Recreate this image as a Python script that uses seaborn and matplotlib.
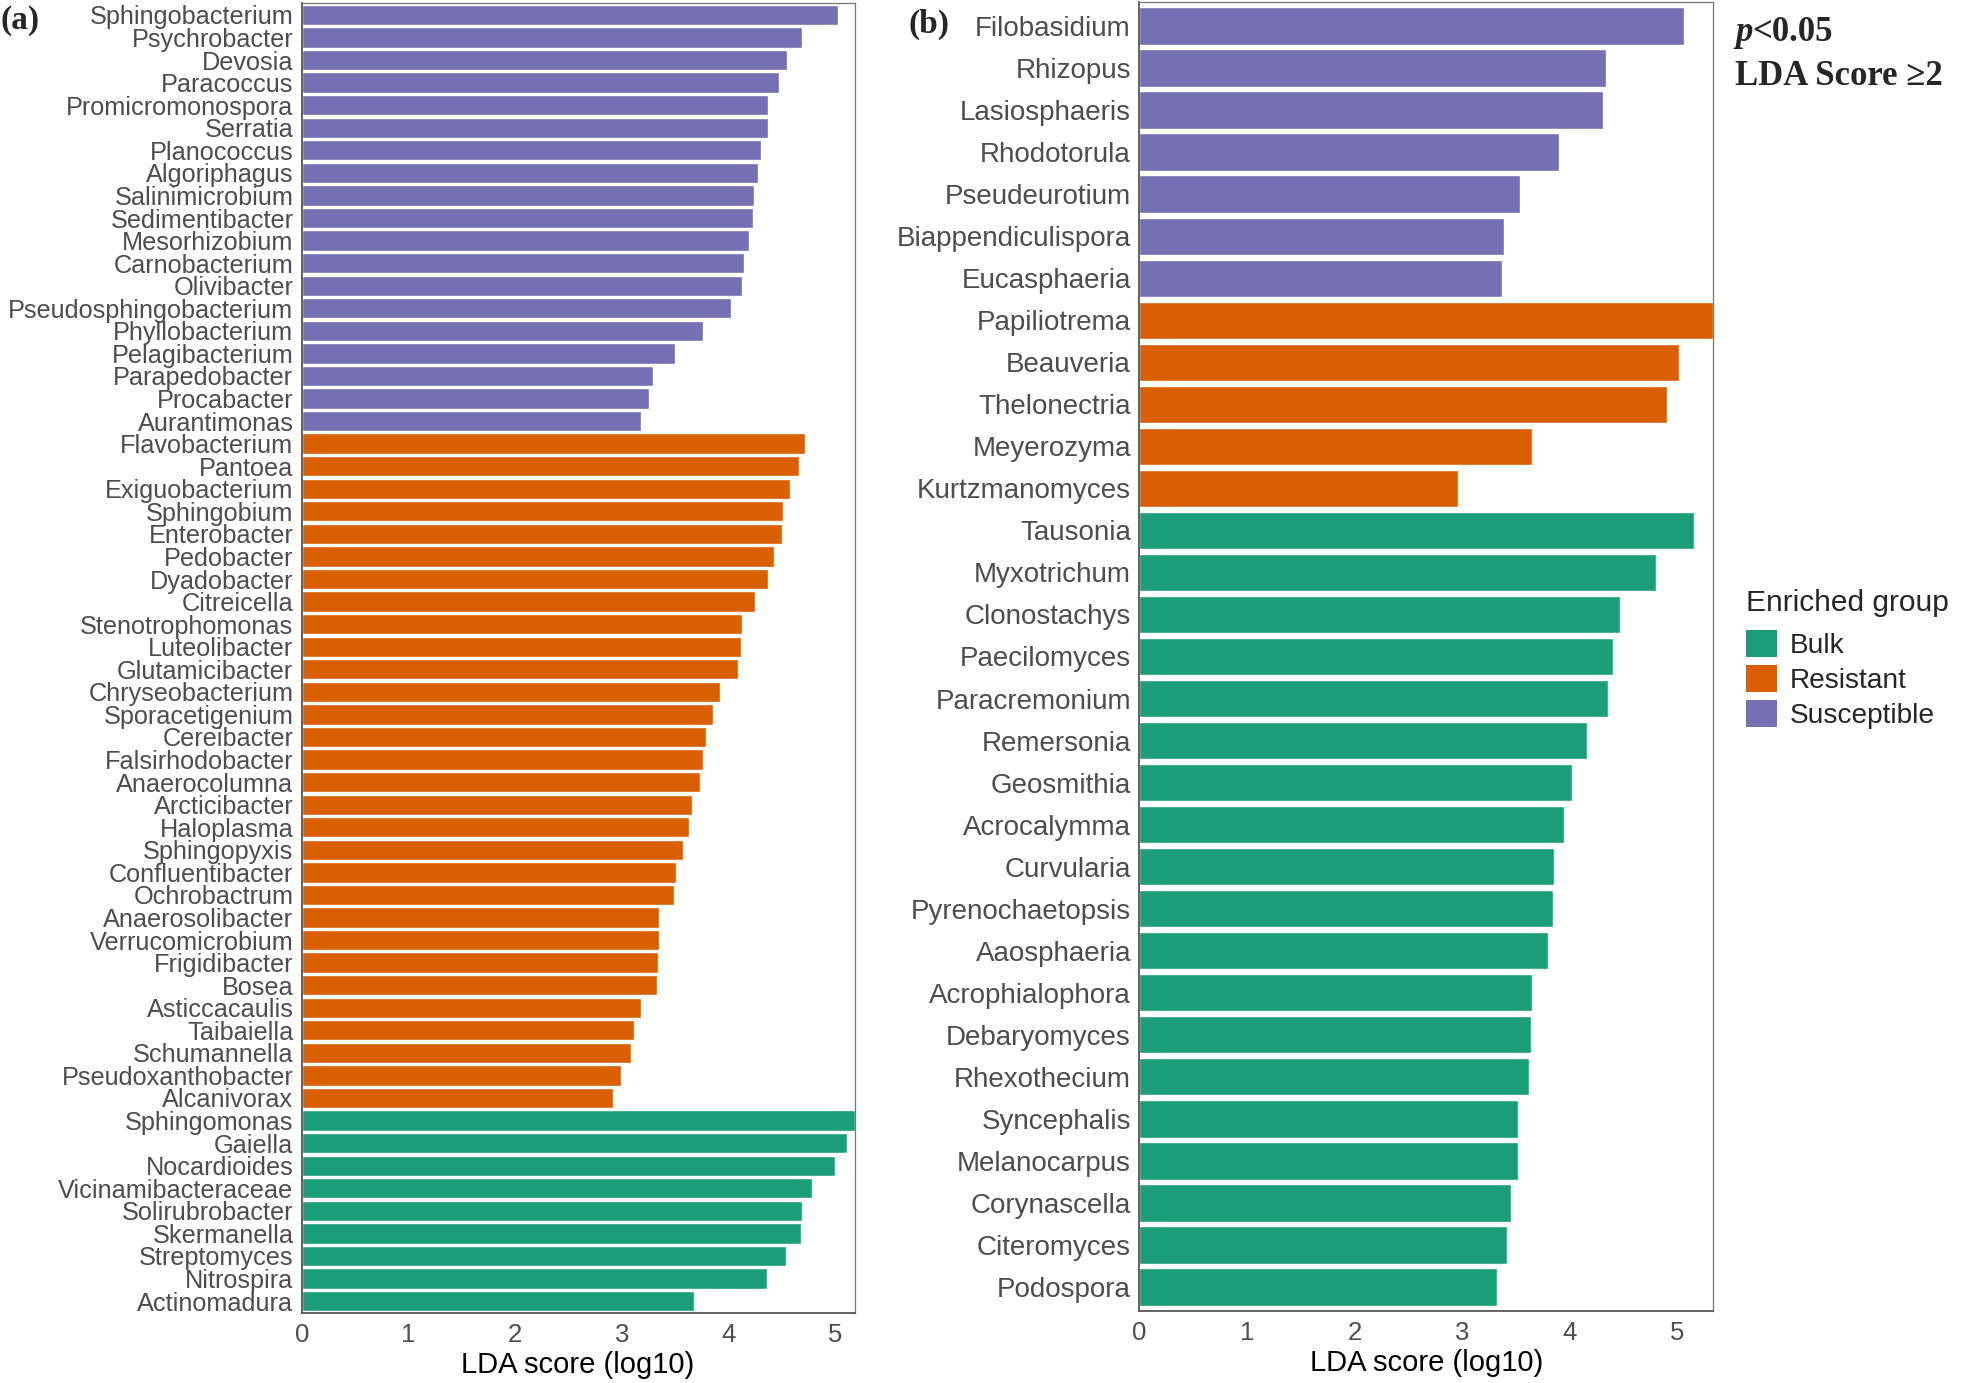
import pandas as pd
import seaborn as sns
import matplotlib.pyplot as plt
from matplotlib.patches import Patch

# ---- panel (a): bacterial genera, LDA scores (log10) ----
a_sus_names = ['Sphingobacterium', 'Psychrobacter', 'Devosia', 'Paracoccus', 'Promicromonospora',
               'Serratia', 'Planococcus', 'Algoriphagus', 'Salinimicrobium', 'Sedimentibacter',
               'Mesorhizobium', 'Carnobacterium', 'Olivibacter', 'Pseudosphingobacterium',
               'Phyllobacterium', 'Pelagibacterium', 'Parapedobacter', 'Procabacter', 'Aurantimonas']
a_sus_scores = [5.03, 4.69, 4.55, 4.47, 4.37, 4.37, 4.30, 4.28, 4.24, 4.23,
                4.19, 4.14, 4.13, 4.02, 3.76, 3.50, 3.29, 3.25, 3.18]

a_res_names = ['Flavobacterium', 'Pantoea', 'Exiguobacterium', 'Sphingobium', 'Enterobacter',
               'Pedobacter', 'Dyadobacter', 'Citreicella', 'Stenotrophomonas', 'Luteolibacter',
               'Glutamicibacter', 'Chryseobacterium', 'Sporacetigenium', 'Cereibacter',
               'Falsirhodobacter', 'Anaerocolumna', 'Arcticibacter', 'Haloplasma', 'Sphingopyxis',
               'Confluentibacter', 'Ochrobactrum', 'Anaerosolibacter', 'Verrucomicrobium',
               'Frigidibacter', 'Bosea', 'Asticcacaulis', 'Taibaiella', 'Schumannella',
               'Pseudoxanthobacter', 'Alcanivorax']
a_res_scores = [4.72, 4.66, 4.58, 4.51, 4.50, 4.43, 4.37, 4.25, 4.13, 4.12,
                4.09, 3.92, 3.85, 3.79, 3.76, 3.73, 3.66, 3.63, 3.57, 3.51,
                3.49, 3.35, 3.35, 3.34, 3.33, 3.18, 3.11, 3.09, 2.99, 2.92]

a_bulk_names = ['Sphingomonas', 'Gaiella', 'Nocardioides', 'Vicinamibacteraceae', 'Solirubrobacter',
                'Skermanella', 'Streptomyces', 'Nitrospira', 'Actinomadura']
a_bulk_scores = [5.18, 5.11, 5.00, 4.78, 4.69, 4.68, 4.54, 4.36, 3.68]

# ---- panel (b): fungal genera ----
b_sus_names = ['Filobasidium', 'Rhizopus', 'Lasiosphaeris', 'Rhodotorula', 'Pseudeurotium',
               'Biappendiculispora', 'Eucasphaeria']
b_sus_scores = [5.06, 4.34, 4.31, 3.90, 3.54, 3.39, 3.37]

b_res_names = ['Papiliotrema', 'Beauveria', 'Thelonectria', 'Meyerozyma', 'Kurtzmanomyces']
b_res_scores = [5.33, 5.01, 4.90, 3.65, 2.96]

b_bulk_names = ['Tausonia', 'Myxotrichum', 'Clonostachys', 'Paecilomyces', 'Paracremonium',
                'Remersonia', 'Geosmithia', 'Acrocalymma', 'Curvularia', 'Pyrenochaetopsis',
                'Aaosphaeria', 'Acrophialophora', 'Debaryomyces', 'Rhexothecium', 'Syncephalis',
                'Melanocarpus', 'Corynascella', 'Citeromyces', 'Podospora']
b_bulk_scores = [5.15, 4.80, 4.47, 4.40, 4.35, 4.16, 4.02, 3.95, 3.85, 3.84,
                 3.80, 3.65, 3.64, 3.62, 3.52, 3.52, 3.45, 3.42, 3.32]

groups = ['Bulk', 'Resistant', 'Susceptible']
palette = {'Bulk': '#1B9E77', 'Resistant': '#D95F02', 'Susceptible': '#7570B3'}


def make_df(sus_n, sus_s, res_n, res_s, bulk_n, bulk_s):
    parts = [
        pd.DataFrame({'genus': sus_n, 'score': sus_s, 'group': 'Susceptible'}),
        pd.DataFrame({'genus': res_n, 'score': res_s, 'group': 'Resistant'}),
        pd.DataFrame({'genus': bulk_n, 'score': bulk_s, 'group': 'Bulk'}),
    ]
    return pd.concat(parts, ignore_index=True)


df_a = make_df(a_sus_names, a_sus_scores, a_res_names, a_res_scores, a_bulk_names, a_bulk_scores)
df_b = make_df(b_sus_names, b_sus_scores, b_res_names, b_res_scores, b_bulk_names, b_bulk_scores)

sns.set_theme(style='white')
plt.rcParams['font.family'] = ['Liberation Sans', 'DejaVu Sans']

W, H = 1985, 1383
fig = plt.figure(figsize=(W / 100, H / 100), dpi=100)
ax_a = fig.add_axes([301.7 / W, 1 - 1313 / H, 552.8 / W, 1310 / H])
ax_b = fig.add_axes([1139.3 / W, 1 - 1311 / H, 573.7 / W, 1309 / H])


def draw_panel(ax, df, ysize, pad_y):
    sns.barplot(data=df, x='score', y='genus', hue='group', palette=palette,
                dodge=False, width=0.9, orient='h', saturation=1,
                errorbar=None, legend=False, ax=ax)
    ax.set_xlim(0, df['score'].max())
    ax.set_ylim(len(df) - 0.5 + pad_y, -0.5 - pad_y)
    ax.set_xticks([0, 1, 2, 3, 4, 5])
    ax.set_ylabel('')
    ax.set_xlabel('LDA score (log10)', fontsize=21, color='black', labelpad=3)
    ax.tick_params(axis='y', labelsize=ysize, colors='#4D4D4D', length=4, width=1.2, pad=2)
    ax.tick_params(axis='x', labelsize=18.5, colors='#4D4D4D', length=4, width=1.2, pad=3)
    for side in ['top', 'right']:
        ax.spines[side].set_color('#777777')
        ax.spines[side].set_linewidth(0.9)
    for side in ['bottom', 'left']:
        ax.spines[side].set_color('#555555')
        ax.spines[side].set_linewidth(1.3)


draw_panel(ax_a, df_a, 18.2, 0.03)
draw_panel(ax_b, df_b, 20, 0.08)

# panel tags
fig.text(1 / W, 1 - 21 / H, '(a)', family='Liberation Serif', fontweight='bold',
         fontsize=24, ha='left', va='center')
fig.text(908 / W, 1 - 24 / H, '(b)', family='Liberation Serif', fontweight='bold',
         fontsize=24, ha='left', va='center')

# significance note
t_p = fig.text(1735 / W, 1 - 41 / H, 'p', family='Liberation Serif', fontweight='bold',
               style='italic', fontsize=25, ha='left', va='baseline')
ax_b.annotate('<0.05', xy=(1, 0), xycoords=t_p, family='Liberation Serif',
              fontweight='bold', fontsize=25, ha='left', va='bottom', annotation_clip=False)
fig.text(1735 / W, 1 - 85 / H, 'LDA Score \u22652', family='Liberation Serif',
         fontweight='bold', fontsize=25, ha='left', va='baseline')

# legend (title drawn separately to get the wider gap above the keys)
fig.text(1746 / W, 1 - 603 / H, 'Enriched group', fontsize=21.5, ha='left', va='center')
handles = [Patch(facecolor=palette[g], edgecolor='none', label=g) for g in groups]
fig.legend(handles=handles, loc='upper left',
           bbox_to_anchor=(1746 / W, 1 - 630 / H), frameon=False, fontsize=20.2,
           handlelength=1.12, handleheight=1.12, labelspacing=0.2,
           handletextpad=0.45, borderpad=0, borderaxespad=0)

plt.savefig('out.png', dpi=100)
